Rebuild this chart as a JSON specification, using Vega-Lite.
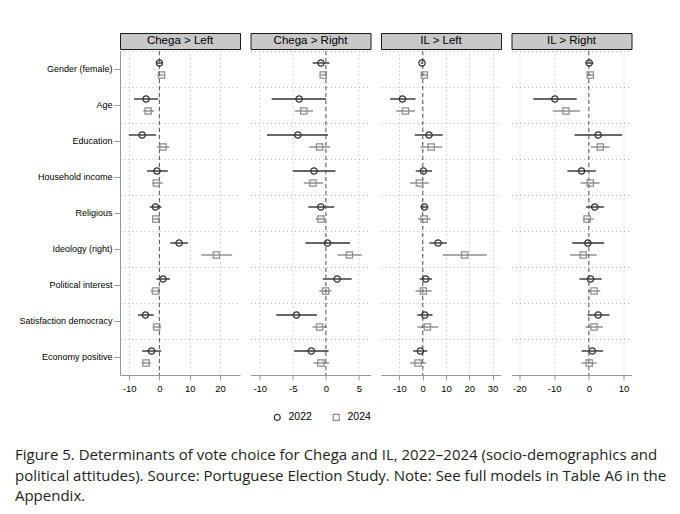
{
"$schema": "https://vega.github.io/schema/vega-lite/v6.json",
"background": "white",
"padding": {"left": 14, "top": 32, "right": 5, "bottom": 5},
"data": {"values": [
{"panel":"Chega > Left","variable":"Gender (female)","year":"2022","est":0,"lo":-1,"hi":1},
{"panel":"Chega > Left","variable":"Gender (female)","year":"2024","est":0.7,"lo":0,"hi":1.4},
{"panel":"Chega > Left","variable":"Age","year":"2022","est":-4.4,"lo":-8.4,"hi":-0.4},
{"panel":"Chega > Left","variable":"Age","year":"2024","est":-3.7,"lo":-5.3,"hi":-1.8},
{"panel":"Chega > Left","variable":"Education","year":"2022","est":-5.7,"lo":-10.1,"hi":-1.1},
{"panel":"Chega > Left","variable":"Education","year":"2024","est":1.2,"lo":-0.8,"hi":3.3},
{"panel":"Chega > Left","variable":"Household income","year":"2022","est":-0.8,"lo":-4.1,"hi":2.8},
{"panel":"Chega > Left","variable":"Household income","year":"2024","est":-1.0,"lo":-2.4,"hi":1.1},
{"panel":"Chega > Left","variable":"Religious","year":"2022","est":-1.3,"lo":-3.2,"hi":0.7},
{"panel":"Chega > Left","variable":"Religious","year":"2024","est":-1.2,"lo":-2.4,"hi":0},
{"panel":"Chega > Left","variable":"Ideology (right)","year":"2022","est":6.5,"lo":3.6,"hi":9.4},
{"panel":"Chega > Left","variable":"Ideology (right)","year":"2024","est":18.8,"lo":13.8,"hi":24},
{"panel":"Chega > Left","variable":"Political interest","year":"2022","est":1.2,"lo":-1,"hi":3.5},
{"panel":"Chega > Left","variable":"Political interest","year":"2024","est":-1.3,"lo":-2.9,"hi":-0.1},
{"panel":"Chega > Left","variable":"Satisfaction democracy","year":"2022","est":-4.6,"lo":-7.1,"hi":-1.9},
{"panel":"Chega > Left","variable":"Satisfaction democracy","year":"2024","est":-0.9,"lo":-2.2,"hi":0.6},
{"panel":"Chega > Left","variable":"Economy positive","year":"2022","est":-2.6,"lo":-5.7,"hi":0.6},
{"panel":"Chega > Left","variable":"Economy positive","year":"2024","est":-4.4,"lo":-5.9,"hi":-2.8},
{"panel":"Chega > Right","variable":"Gender (female)","year":"2022","est":-0.75,"lo":-2.0,"hi":0.55},
{"panel":"Chega > Right","variable":"Gender (female)","year":"2024","est":-0.4,"lo":-0.8,"hi":0.05},
{"panel":"Chega > Right","variable":"Age","year":"2022","est":-4.05,"lo":-8.2,"hi":0},
{"panel":"Chega > Right","variable":"Age","year":"2024","est":-3.35,"lo":-4.7,"hi":-1.95},
{"panel":"Chega > Right","variable":"Education","year":"2022","est":-4.25,"lo":-8.9,"hi":0.3},
{"panel":"Chega > Right","variable":"Education","year":"2024","est":-0.95,"lo":-2.5,"hi":0.65},
{"panel":"Chega > Right","variable":"Household income","year":"2022","est":-1.8,"lo":-5.0,"hi":1.45},
{"panel":"Chega > Right","variable":"Household income","year":"2024","est":-1.95,"lo":-3.35,"hi":-0.45},
{"panel":"Chega > Right","variable":"Religious","year":"2022","est":-0.75,"lo":-2.65,"hi":1.25},
{"panel":"Chega > Right","variable":"Religious","year":"2024","est":-0.75,"lo":-1.55,"hi":-0.15},
{"panel":"Chega > Right","variable":"Ideology (right)","year":"2022","est":0.25,"lo":-3.1,"hi":3.65},
{"panel":"Chega > Right","variable":"Ideology (right)","year":"2024","est":3.55,"lo":1.75,"hi":5.45},
{"panel":"Chega > Right","variable":"Political interest","year":"2022","est":1.7,"lo":-0.45,"hi":3.9},
{"panel":"Chega > Right","variable":"Political interest","year":"2024","est":-0.05,"lo":-1.0,"hi":0.85},
{"panel":"Chega > Right","variable":"Satisfaction democracy","year":"2022","est":-4.45,"lo":-7.5,"hi":-1.35},
{"panel":"Chega > Right","variable":"Satisfaction democracy","year":"2024","est":-0.95,"lo":-2.05,"hi":0.15},
{"panel":"Chega > Right","variable":"Economy positive","year":"2022","est":-2.2,"lo":-4.8,"hi":0.4},
{"panel":"Chega > Right","variable":"Economy positive","year":"2024","est":-0.75,"lo":-1.9,"hi":0.5},
{"panel":"IL > Left","variable":"Gender (female)","year":"2022","est":-0.3,"lo":-0.8,"hi":0.2},
{"panel":"IL > Left","variable":"Gender (female)","year":"2024","est":0.7,"lo":-0.85,"hi":2.1},
{"panel":"IL > Left","variable":"Age","year":"2022","est":-8.7,"lo":-14,"hi":-3.1},
{"panel":"IL > Left","variable":"Age","year":"2024","est":-7.4,"lo":-11.4,"hi":-3.3},
{"panel":"IL > Left","variable":"Education","year":"2022","est":2.7,"lo":-3.4,"hi":8.6},
{"panel":"IL > Left","variable":"Education","year":"2024","est":3.6,"lo":-1.0,"hi":8.4},
{"panel":"IL > Left","variable":"Household income","year":"2022","est":0.3,"lo":-3,"hi":4.0},
{"panel":"IL > Left","variable":"Household income","year":"2024","est":-1.4,"lo":-5.4,"hi":2.6},
{"panel":"IL > Left","variable":"Religious","year":"2022","est":0.7,"lo":-0.85,"hi":2.4},
{"panel":"IL > Left","variable":"Religious","year":"2024","est":0.6,"lo":-2.1,"hi":3.4},
{"panel":"IL > Left","variable":"Ideology (right)","year":"2022","est":6.6,"lo":2.9,"hi":10.3},
{"panel":"IL > Left","variable":"Ideology (right)","year":"2024","est":18.0,"lo":8.6,"hi":27.5},
{"panel":"IL > Left","variable":"Political interest","year":"2022","est":1.3,"lo":-1.3,"hi":4.0},
{"panel":"IL > Left","variable":"Political interest","year":"2024","est":0.3,"lo":-3.1,"hi":3.9},
{"panel":"IL > Left","variable":"Satisfaction democracy","year":"2022","est":0.9,"lo":-2.3,"hi":4.2},
{"panel":"IL > Left","variable":"Satisfaction democracy","year":"2024","est":2.0,"lo":-2.3,"hi":6.7},
{"panel":"IL > Left","variable":"Economy positive","year":"2022","est":-1.0,"lo":-4.1,"hi":2.0},
{"panel":"IL > Left","variable":"Economy positive","year":"2024","est":-2.0,"lo":-5.4,"hi":1.4},
{"panel":"IL > Right","variable":"Gender (female)","year":"2022","est":0.1,"lo":-1.0,"hi":1.3},
{"panel":"IL > Right","variable":"Gender (female)","year":"2024","est":0.4,"lo":-0.5,"hi":1.2},
{"panel":"IL > Right","variable":"Age","year":"2022","est":-9.8,"lo":-16,"hi":-3.5},
{"panel":"IL > Right","variable":"Age","year":"2024","est":-6.6,"lo":-10.4,"hi":-2.5},
{"panel":"IL > Right","variable":"Education","year":"2022","est":2.7,"lo":-4.1,"hi":9.6},
{"panel":"IL > Right","variable":"Education","year":"2024","est":3.3,"lo":0.6,"hi":6.0},
{"panel":"IL > Right","variable":"Household income","year":"2022","est":-2.1,"lo":-6.2,"hi":2.0},
{"panel":"IL > Right","variable":"Household income","year":"2024","est":0.4,"lo":-2.4,"hi":3.1},
{"panel":"IL > Right","variable":"Religious","year":"2022","est":1.7,"lo":-0.8,"hi":4.4},
{"panel":"IL > Right","variable":"Religious","year":"2024","est":-0.5,"lo":-1.7,"hi":1.4},
{"panel":"IL > Right","variable":"Ideology (right)","year":"2022","est":-0.3,"lo":-4.8,"hi":4.4},
{"panel":"IL > Right","variable":"Ideology (right)","year":"2024","est":-1.6,"lo":-5.4,"hi":2.3},
{"panel":"IL > Right","variable":"Political interest","year":"2022","est":0.5,"lo":-2.7,"hi":3.7},
{"panel":"IL > Right","variable":"Political interest","year":"2024","est":1.5,"lo":-0.2,"hi":3.3},
{"panel":"IL > Right","variable":"Satisfaction democracy","year":"2022","est":2.7,"lo":-0.4,"hi":5.9},
{"panel":"IL > Right","variable":"Satisfaction democracy","year":"2024","est":1.5,"lo":-1.0,"hi":4.1},
{"panel":"IL > Right","variable":"Economy positive","year":"2022","est":1.0,"lo":-2.1,"hi":4.1},
{"panel":"IL > Right","variable":"Economy positive","year":"2024","est":0.1,"lo":-2.1,"hi":2.2}
]},
"spacing": 8.5,
"resolve": {"scale": {"color": "shared", "shape": "shared"}},
"hconcat": [
{"spacing": 0, "vconcat": [
 {"width": 120, "height": 16, "view": {"fill": "#c8c8c8", "stroke": "#1a1a1a", "strokeWidth": 1},
  "transform": [{"filter": "datum.panel === 'Chega > Left'"}, {"aggregate": [{"op": "count", "as": "n"}], "groupby": ["panel"]}],
  "mark": {"type": "text", "fontSize": 11.5, "color": "#000"},
  "encoding": {"text": {"field": "panel"}}},
 {"width": 120, "height": 324,
  "transform": [{"filter": "datum.panel === 'Chega > Left'"}],
  "resolve": {"axis": {"y": "independent"}},
  "layer": [
   {"mark": {"type": "rule", "strokeWidth": 1.4},
    "encoding": {
     "x": {"field": "lo", "type": "quantitative", "title": null, "scale": {"domain": [-13, 26.6], "nice": false, "zero": false}, "axis": {"values": [-10, 0, 10, 20], "format": "d", "labelExpr": "replace(datum.label, '\u2212', '-')", "labelOverlap": false, "labelFlush": false}},
     "x2": {"field": "hi"},
     "y": {"field": "variable", "type": "nominal", "sort": ["Gender (female)","Age","Education","Household income","Religious","Ideology (right)","Political interest","Satisfaction democracy","Economy positive"], "scale": {"paddingInner": 0, "paddingOuter": 0}, "title": null, "axis": {"orient": "left", "grid": true, "tickBand": "extent", "labels": false, "ticks": false, "domain": false}},
     "yOffset": {"field": "year", "type": "nominal", "scale": {"paddingOuter": 0.5, "paddingInner": 0}},
     "color": {"field": "year", "type": "nominal", "scale": {"domain": ["2022","2024"], "range": ["#333333","#8c8c8c"]}}}},
   {"data": {"values": [{"zero": 0}]},
    "mark": {"type": "rule", "strokeDash": [4, 3], "color": "#555555", "strokeWidth": 1},
    "encoding": {"x": {"field": "zero", "type": "quantitative", "title": null, "axis": {"values": [-10, 0, 10, 20], "format": "d", "labelExpr": "replace(datum.label, '\u2212', '-')", "labelOverlap": false, "labelFlush": false}}}},
   {"mark": {"type": "point", "filled": false, "size": 40, "strokeWidth": 1.2, "opacity": 1},
    "encoding": {
     "x": {"field": "est", "type": "quantitative", "title": null, "axis": {"values": [-10, 0, 10, 20], "format": "d", "labelExpr": "replace(datum.label, '\u2212', '-')", "labelOverlap": false, "labelFlush": false}},
     "y": {"field": "variable", "type": "nominal", "sort": ["Gender (female)","Age","Education","Household income","Religious","Ideology (right)","Political interest","Satisfaction democracy","Economy positive"], "title": null, "axis": {"orient": "left", "grid": false, "domainColor": "#999999", "tickColor": "#999999", "tickSize": 6, "labelPadding": 2, "labelFontSize": 9, "labelColor": "#000000"}},
     "yOffset": {"field": "year", "type": "nominal"},
     "color": {"field": "year", "type": "nominal", "legend": {"title": null, "orient": "none", "legendX": 152, "legendY": 379, "direction": "horizontal"}},
     "shape": {"field": "year", "type": "nominal", "scale": {"domain": ["2022","2024"], "range": ["circle","square"]}, "legend": {"title": null, "orient": "none", "legendX": 152, "legendY": 379, "direction": "horizontal"}}}}
  ]}
]},
{"spacing": 0, "vconcat": [
 {"width": 120, "height": 16, "view": {"fill": "#c8c8c8", "stroke": "#1a1a1a", "strokeWidth": 1},
  "transform": [{"filter": "datum.panel === 'Chega > Right'"}, {"aggregate": [{"op": "count", "as": "n"}], "groupby": ["panel"]}],
  "mark": {"type": "text", "fontSize": 11.5, "color": "#000"},
  "encoding": {"text": {"field": "panel"}}},
 {"width": 120, "height": 324,
  "transform": [{"filter": "datum.panel === 'Chega > Right'"}],
  "layer": [
   {"mark": {"type": "rule", "strokeWidth": 1.4},
    "encoding": {
     "x": {"field": "lo", "type": "quantitative", "title": null, "scale": {"domain": [-11.4, 6.75], "nice": false, "zero": false}, "axis": {"values": [-10, -5, 0, 5], "format": "d", "labelExpr": "replace(datum.label, '\u2212', '-')", "labelOverlap": false, "labelFlush": false}},
     "x2": {"field": "hi"},
     "y": {"field": "variable", "type": "nominal", "sort": ["Gender (female)","Age","Education","Household income","Religious","Ideology (right)","Political interest","Satisfaction democracy","Economy positive"], "scale": {"paddingInner": 0, "paddingOuter": 0}, "title": null, "axis": {"orient": "left", "grid": true, "tickBand": "extent", "labels": false, "ticks": false, "domain": false}},
     "yOffset": {"field": "year", "type": "nominal", "scale": {"paddingOuter": 0.5, "paddingInner": 0}},
     "color": {"field": "year", "type": "nominal"}}},
   {"data": {"values": [{"zero": 0}]},
    "mark": {"type": "rule", "strokeDash": [4, 3], "color": "#555555", "strokeWidth": 1},
    "encoding": {"x": {"field": "zero", "type": "quantitative", "title": null, "axis": {"values": [-10, -5, 0, 5], "format": "d", "labelExpr": "replace(datum.label, '\u2212', '-')", "labelOverlap": false, "labelFlush": false}}}},
   {"mark": {"type": "point", "filled": false, "size": 40, "strokeWidth": 1.2, "opacity": 1},
    "encoding": {
     "x": {"field": "est", "type": "quantitative", "title": null, "axis": {"values": [-10, -5, 0, 5], "format": "d", "labelExpr": "replace(datum.label, '\u2212', '-')", "labelOverlap": false, "labelFlush": false}},
     "y": {"field": "variable", "type": "nominal", "sort": ["Gender (female)","Age","Education","Household income","Religious","Ideology (right)","Political interest","Satisfaction democracy","Economy positive"], "title": null},
     "yOffset": {"field": "year", "type": "nominal"},
     "color": {"field": "year", "type": "nominal"},
     "shape": {"field": "year", "type": "nominal"}}}
  ]}
]},
{"spacing": 0, "vconcat": [
 {"width": 120, "height": 16, "view": {"fill": "#c8c8c8", "stroke": "#1a1a1a", "strokeWidth": 1},
  "transform": [{"filter": "datum.panel === 'IL > Left'"}, {"aggregate": [{"op": "count", "as": "n"}], "groupby": ["panel"]}],
  "mark": {"type": "text", "fontSize": 11.5, "color": "#000"},
  "encoding": {"text": {"field": "panel"}}},
 {"width": 120, "height": 324,
  "transform": [{"filter": "datum.panel === 'IL > Left'"}],
  "layer": [
   {"mark": {"type": "rule", "strokeWidth": 1.4},
    "encoding": {
     "x": {"field": "lo", "type": "quantitative", "title": null, "scale": {"domain": [-17.9, 33.6], "nice": false, "zero": false}, "axis": {"values": [-10, 0, 10, 20, 30], "format": "d", "labelExpr": "replace(datum.label, '\u2212', '-')", "labelOverlap": false, "labelFlush": false}},
     "x2": {"field": "hi"},
     "y": {"field": "variable", "type": "nominal", "sort": ["Gender (female)","Age","Education","Household income","Religious","Ideology (right)","Political interest","Satisfaction democracy","Economy positive"], "scale": {"paddingInner": 0, "paddingOuter": 0}, "title": null, "axis": {"orient": "left", "grid": true, "tickBand": "extent", "labels": false, "ticks": false, "domain": false}},
     "yOffset": {"field": "year", "type": "nominal", "scale": {"paddingOuter": 0.5, "paddingInner": 0}},
     "color": {"field": "year", "type": "nominal"}}},
   {"data": {"values": [{"zero": 0}]},
    "mark": {"type": "rule", "strokeDash": [4, 3], "color": "#555555", "strokeWidth": 1},
    "encoding": {"x": {"field": "zero", "type": "quantitative", "title": null, "axis": {"values": [-10, 0, 10, 20, 30], "format": "d", "labelExpr": "replace(datum.label, '\u2212', '-')", "labelOverlap": false, "labelFlush": false}}}},
   {"mark": {"type": "point", "filled": false, "size": 40, "strokeWidth": 1.2, "opacity": 1},
    "encoding": {
     "x": {"field": "est", "type": "quantitative", "title": null, "axis": {"values": [-10, 0, 10, 20, 30], "format": "d", "labelExpr": "replace(datum.label, '\u2212', '-')", "labelOverlap": false, "labelFlush": false}},
     "y": {"field": "variable", "type": "nominal", "sort": ["Gender (female)","Age","Education","Household income","Religious","Ideology (right)","Political interest","Satisfaction democracy","Economy positive"], "title": null},
     "yOffset": {"field": "year", "type": "nominal"},
     "color": {"field": "year", "type": "nominal"},
     "shape": {"field": "year", "type": "nominal"}}}
  ]}
]},
{"spacing": 0, "vconcat": [
 {"width": 120, "height": 16, "view": {"fill": "#c8c8c8", "stroke": "#1a1a1a", "strokeWidth": 1},
  "transform": [{"filter": "datum.panel === 'IL > Right'"}, {"aggregate": [{"op": "count", "as": "n"}], "groupby": ["panel"]}],
  "mark": {"type": "text", "fontSize": 11.5, "color": "#000"},
  "encoding": {"text": {"field": "panel"}}},
 {"width": 120, "height": 324,
  "transform": [{"filter": "datum.panel === 'IL > Right'"}],
  "layer": [
   {"mark": {"type": "rule", "strokeWidth": 1.4},
    "encoding": {
     "x": {"field": "lo", "type": "quantitative", "title": null, "scale": {"domain": [-22.3, 12.3], "nice": false, "zero": false}, "axis": {"values": [-20, -10, 0, 10], "format": "d", "labelExpr": "replace(datum.label, '\u2212', '-')", "labelOverlap": false, "labelFlush": false}},
     "x2": {"field": "hi"},
     "y": {"field": "variable", "type": "nominal", "sort": ["Gender (female)","Age","Education","Household income","Religious","Ideology (right)","Political interest","Satisfaction democracy","Economy positive"], "scale": {"paddingInner": 0, "paddingOuter": 0}, "title": null, "axis": {"orient": "left", "grid": true, "tickBand": "extent", "labels": false, "ticks": false, "domain": false}},
     "yOffset": {"field": "year", "type": "nominal", "scale": {"paddingOuter": 0.5, "paddingInner": 0}},
     "color": {"field": "year", "type": "nominal"}}},
   {"data": {"values": [{"zero": 0}]},
    "mark": {"type": "rule", "strokeDash": [4, 3], "color": "#555555", "strokeWidth": 1},
    "encoding": {"x": {"field": "zero", "type": "quantitative", "title": null, "axis": {"values": [-20, -10, 0, 10], "format": "d", "labelExpr": "replace(datum.label, '\u2212', '-')", "labelOverlap": false, "labelFlush": false}}}},
   {"mark": {"type": "point", "filled": false, "size": 40, "strokeWidth": 1.2, "opacity": 1},
    "encoding": {
     "x": {"field": "est", "type": "quantitative", "title": null, "axis": {"values": [-20, -10, 0, 10], "format": "d", "labelExpr": "replace(datum.label, '\u2212', '-')", "labelOverlap": false, "labelFlush": false}},
     "y": {"field": "variable", "type": "nominal", "sort": ["Gender (female)","Age","Education","Household income","Religious","Ideology (right)","Political interest","Satisfaction democracy","Economy positive"], "title": null},
     "yOffset": {"field": "year", "type": "nominal"},
     "color": {"field": "year", "type": "nominal"},
     "shape": {"field": "year", "type": "nominal"}}}
  ]}
]}
],
"title": {
 "text": ["Figure 5. Determinants of vote choice for Chega and IL, 2022–2024 (socio-demographics and", "political attitudes). Source: Portuguese Election Study. Note: See full models in Table A6 in the", "Appendix."],
 "orient": "bottom", "anchor": "start", "frame": "bounds", "font": "Open Sans", "fontSize": 15, "fontWeight": "normal", "color": "#231f20", "lineHeight": 20.5, "offset": 25, "dx": -4
},
"config": {
 "font": "Liberation Sans",
 "view": {"stroke": null},
 "axisY": {"gridDash": [1, 3], "gridColor": "#b4b4b4", "gridWidth": 1},
 "axisX": {"grid": true, "gridDash": [1, 3], "gridColor": "#b4b4b4", "domainColor": "#999999", "tickColor": "#999999", "tickSize": 5, "labelFontSize": 9.5, "labelColor": "#000000", "labelPadding": 3, "labelOverlap": false},
 "legend": {"symbolSize": 36, "symbolStrokeWidth": 1.2, "labelFontSize": 10.5, "labelColor": "#000000", "columnPadding": 18, "labelOffset": 6}
}
}
